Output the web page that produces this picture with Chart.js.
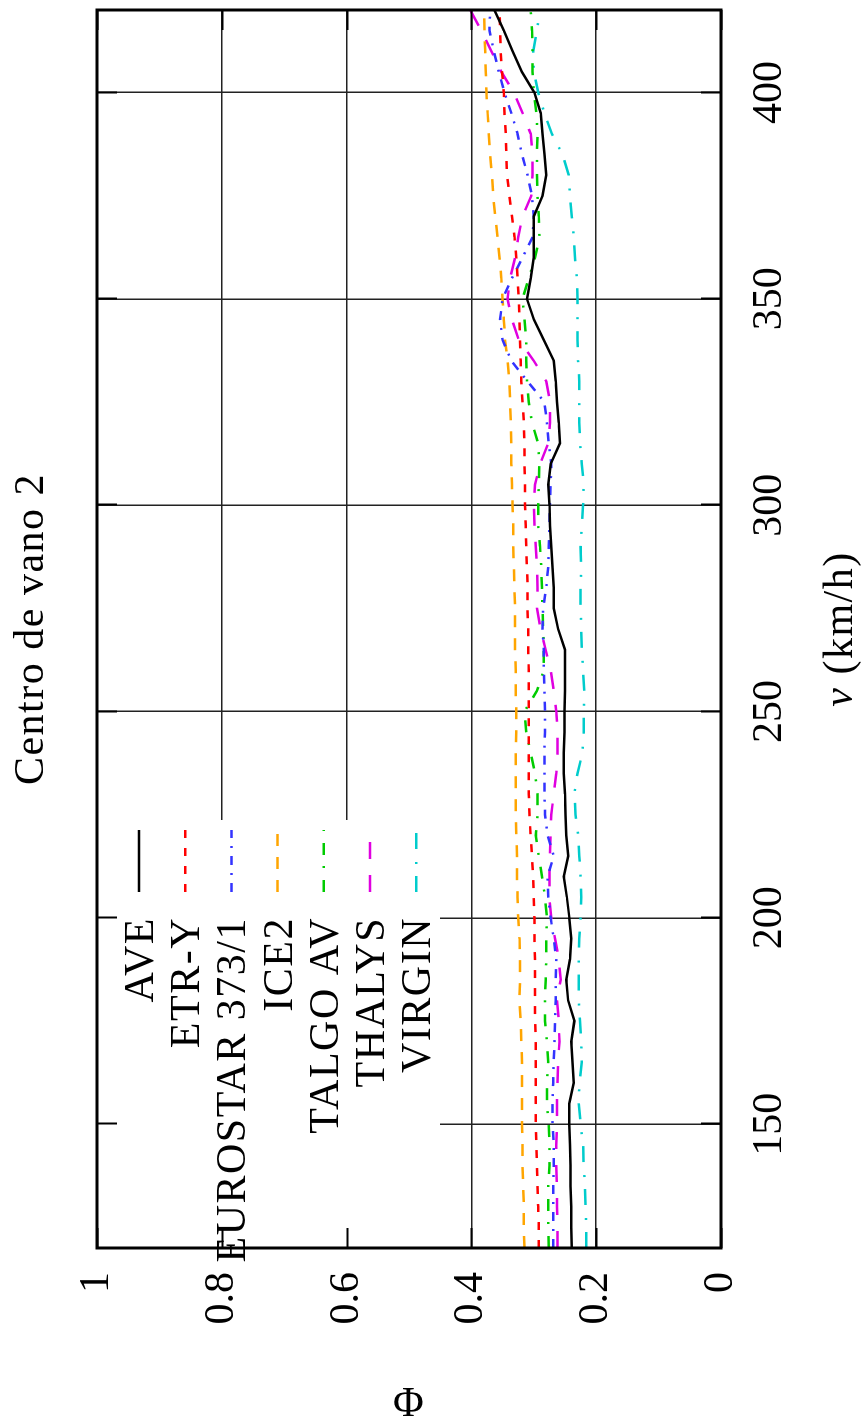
<!DOCTYPE html>
<html>
<head>
<meta charset="utf-8">
<script src="https://cdn.jsdelivr.net/npm/chart.js@4.4.1/dist/chart.umd.min.js"></script>
<style>
html, body { margin: 0; padding: 0; overflow: hidden; background: #fff; width: 864px; height: 1426px; }
/* the plot is drawn landscape and turned a quarter turn, like the original */
#wrap { position: absolute; left: 0; top: 0; width: 1426px; height: 864px;
        transform-origin: 0 0; transform: translate(0, 1426px) rotate(-90deg); }
</style>
</head>
<body>
<div id="wrap"><canvas id="c" width="1426" height="864"></canvas></div>
<script>
// v (km/h)
var speeds = [120,125,130,135,140,145,150,155,160,165,170,175,180,185,190,195,200,205,210,215,
              220,225,230,235,240,245,250,255,260,265,270,275,280,285,290,295,300,305,310,315,
              320,325,330,335,340,345,350,355,360,365,370,375,380,385,390,395,400,405,410,415,420];

// Phi per train
var ave = [0.239,0.240,0.240,0.241,0.241,0.242,0.243,0.243,0.236,0.238,0.240,0.235,0.245,0.248,0.242,0.240,0.243,0.247,0.252,0.245,
           0.248,0.249,0.250,0.252,0.252,0.251,0.251,0.250,0.250,0.250,0.261,0.268,0.268,0.270,0.272,0.274,0.275,0.277,0.273,0.258,
           0.260,0.263,0.265,0.268,0.284,0.300,0.311,0.305,0.300,0.300,0.300,0.286,0.280,0.283,0.286,0.289,0.299,0.319,0.334,0.348,0.363];
var etrY = [0.292,0.292,0.293,0.294,0.295,0.296,0.297,0.297,0.297,0.297,0.297,0.298,0.298,0.298,0.298,0.299,0.299,0.300,0.301,0.303,
            0.305,0.307,0.308,0.308,0.308,0.308,0.308,0.308,0.308,0.309,0.309,0.310,0.310,0.311,0.312,0.313,0.314,0.314,0.315,0.315,
            0.316,0.318,0.320,0.321,0.322,0.323,0.324,0.326,0.328,0.331,0.335,0.339,0.343,0.344,0.345,0.347,0.348,0.351,0.353,0.354,0.355];
var eurostar = [0.269,0.269,0.269,0.269,0.268,0.268,0.270,0.270,0.269,0.268,0.267,0.266,0.265,0.265,0.264,0.268,0.273,0.277,0.278,0.268,
                0.278,0.282,0.283,0.283,0.283,0.282,0.282,0.283,0.284,0.284,0.286,0.285,0.280,0.277,0.276,0.275,0.274,0.273,0.272,0.276,
                0.279,0.283,0.310,0.336,0.350,0.354,0.350,0.335,0.318,0.302,0.300,0.303,0.310,0.319,0.326,0.336,0.347,0.356,0.364,0.371,0.370];
var ice2 = [0.315,0.316,0.316,0.317,0.318,0.318,0.319,0.319,0.319,0.319,0.320,0.321,0.323,0.322,0.322,0.323,0.325,0.326,0.327,0.327,
            0.328,0.329,0.329,0.329,0.329,0.328,0.328,0.329,0.329,0.330,0.330,0.330,0.331,0.332,0.333,0.333,0.334,0.335,0.336,0.336,
            0.337,0.338,0.339,0.342,0.346,0.348,0.350,0.352,0.355,0.358,0.362,0.365,0.367,0.370,0.372,0.374,0.376,0.377,0.378,0.379,0.380];
var talgo = [0.276,0.277,0.277,0.277,0.275,0.275,0.276,0.279,0.279,0.277,0.279,0.282,0.282,0.281,0.280,0.280,0.279,0.282,0.287,0.292,
             0.297,0.294,0.294,0.298,0.305,0.312,0.315,0.295,0.284,0.284,0.285,0.286,0.287,0.288,0.290,0.293,0.293,0.292,0.291,0.293,
             0.303,0.308,0.311,0.312,0.312,0.315,0.318,0.308,0.298,0.291,0.292,0.294,0.295,0.295,0.294,0.296,0.300,0.302,0.302,0.303,0.305];
var thalys = [0.262,0.262,0.263,0.263,0.264,0.264,0.263,0.263,0.262,0.261,0.259,0.260,0.263,0.257,0.260,0.266,0.272,0.275,0.275,0.274,
              0.273,0.272,0.268,0.264,0.262,0.262,0.264,0.268,0.273,0.281,0.289,0.295,0.294,0.295,0.297,0.299,0.300,0.298,0.290,0.277,
              0.274,0.274,0.280,0.300,0.324,0.335,0.342,0.338,0.330,0.325,0.318,0.304,0.302,0.302,0.305,0.318,0.332,0.352,0.368,0.384,0.402];
var virgin = [0.216,0.216,0.217,0.218,0.220,0.221,0.225,0.228,0.227,0.223,0.224,0.226,0.228,0.228,0.228,0.227,0.225,0.224,0.225,0.227,
              0.229,0.233,0.235,0.230,0.222,0.220,0.220,0.219,0.221,0.223,0.224,0.225,0.225,0.224,0.225,0.223,0.221,0.220,0.223,0.226,
              0.227,0.227,0.227,0.229,0.230,0.230,0.230,0.231,0.234,0.236,0.239,0.242,0.244,0.254,0.271,0.283,0.293,0.300,0.301,0.295,0.290];

var seriesNames = ['AVE', 'ETR-Y', 'EUROSTAR 373/1', 'ICE2', 'TALGO AV', 'THALYS', 'VIRGIN'];
var vTicks = [150, 200, 250, 300, 350, 400];
var phiTicks = [0, 0.2, 0.4, 0.6, 0.8, 1];
var phiTickLabels = ['0', '0.2', '0.4', '0.6', '0.8', '1'];

var FONT = "'Liberation Serif', 'DejaVu Serif', serif";
var FS = 42;

var styles = [
    { color: '#000000', dash: [] },
    { color: '#ff0000', dash: [8, 10] },
    { color: '#3333ff', dash: [9, 8, 2, 8] },
    { color: '#ffa500', dash: [12, 11] },
    { color: '#00cc00', dash: [12, 12, 2, 11] },
    { color: '#e000e0', dash: [17, 16] },
    { color: '#00cccc', dash: [16, 12, 2, 13] }
];
var values = [ave, etrY, eurostar, ice2, talgo, thalys, virgin];

function points(arr) {
    return speeds.map(function (v, i) { return { x: v, y: arr[i] }; });
}

var datasets = values.map(function (arr, i) {
    return {
        label: seriesNames[i],
        data: points(arr),
        borderColor: styles[i].color,
        borderDash: styles[i].dash,
        borderWidth: 2.5,
        pointRadius: 0,
        tension: 0,
        fill: false
    };
});

// key box and text positions (original, unrotated frame)
var KEY_RIGHT = 606, KEY_BOTTOM = 440, KEY_TEXT_END = 509;
var KEY_ROW0 = 139, KEY_STEP = 46.2, KEY_SAMPLE = [534, 596];
var TICK_LEN = 20;

var gnuplotFrame = {
    id: 'gnuplotFrame',
    beforeDatasetsDraw: function (chart) {
        var ctx = chart.ctx, a = chart.chartArea;
        ctx.save();
        ctx.fillStyle = '#ffffff';
        ctx.fillRect(a.left, a.top, KEY_RIGHT - a.left, KEY_BOTTOM - a.top);
        ctx.restore();
    },
    afterDraw: function (chart) {
        var ctx = chart.ctx, a = chart.chartArea;
        var xs = chart.scales.x, ys = chart.scales.y;
        var midX = (a.left + a.right) / 2, midY = (a.top + a.bottom) / 2;
        ctx.save();
        // Computer Modern runs wider than Liberation Serif
        ctx.letterSpacing = '1.5px';

        // key
        ctx.font = FS + 'px ' + FONT;
        ctx.fillStyle = '#000';
        ctx.textAlign = 'right';
        ctx.textBaseline = 'alphabetic';
        chart.data.datasets.forEach(function (ds, i) {
            var y = KEY_ROW0 + i * KEY_STEP;
            ctx.fillText(ds.label, KEY_TEXT_END, y + 14);
            ctx.beginPath();
            ctx.setLineDash(ds.borderDash);
            ctx.strokeStyle = ds.borderColor;
            ctx.lineWidth = 2.5;
            ctx.moveTo(KEY_SAMPLE[0], y);
            ctx.lineTo(KEY_SAMPLE[1], y);
            ctx.stroke();
        });
        ctx.setLineDash([]);

        // inward tick marks on all four sides
        ctx.strokeStyle = '#000';
        ctx.lineWidth = 2;
        ctx.beginPath();
        vTicks.forEach(function (v) {
            var px = Math.round(xs.getPixelForValue(v)) + 0.5;
            ctx.moveTo(px, a.bottom); ctx.lineTo(px, a.bottom - TICK_LEN);
            ctx.moveTo(px, a.top); ctx.lineTo(px, a.top + TICK_LEN);
        });
        phiTicks.forEach(function (p) {
            var py = Math.round(ys.getPixelForValue(p)) + 0.5;
            ctx.moveTo(a.left, py); ctx.lineTo(a.left + TICK_LEN, py);
            ctx.moveTo(a.right, py); ctx.lineTo(a.right - TICK_LEN, py);
        });
        ctx.stroke();

        // border
        ctx.lineWidth = 3;
        ctx.strokeRect(a.left, a.top, a.right - a.left, a.bottom - a.top);

        // title
        ctx.textAlign = 'center';
        ctx.font = FS + 'px ' + FONT;
        ctx.fillText('Centro de vano 2', midX, 43);

        // x axis title with italic v
        var italic = 'italic ' + FS + 'px ' + FONT;
        var upright = FS + 'px ' + FONT;
        ctx.font = italic;
        var wv = ctx.measureText('v').width;
        ctx.font = upright;
        var wr = ctx.measureText(' (km/h)').width;
        var x0 = midX - (wv + wr) / 2;
        ctx.textAlign = 'left';
        ctx.font = italic;
        ctx.fillText('v', x0, 852);
        ctx.font = upright;
        ctx.fillText(' (km/h)', x0 + wv, 852);

        // y axis title
        ctx.translate(21, midY);
        ctx.rotate(Math.PI / 2);
        ctx.textAlign = 'center';
        ctx.textBaseline = 'middle';
        ctx.fillText('\u03A6', 0, 0);
        ctx.restore();
    }
};

new Chart(document.getElementById('c'), {
    type: 'line',
    data: { datasets: datasets },
    options: {
        responsive: false,
        animation: false,
        devicePixelRatio: 1,
        layout: { padding: { top: 97, right: 10, left: 0, bottom: 0 } },
        plugins: { legend: { display: false }, tooltip: { enabled: false } },
        scales: {
            x: {
                type: 'linear',
                min: 120,
                max: 420,
                afterBuildTicks: function (s) {
                    s.ticks = vTicks.map(function (v) { return { value: v }; });
                },
                afterFit: function (s) { s.height = 143; },
                ticks: {
                    color: '#000',
                    font: { family: FONT, size: FS },
                    padding: 24,
                    maxRotation: 0,
                    callback: function (v) { return String(v); }
                },
                grid: { color: '#222', lineWidth: 1.5, drawTicks: false },
                border: { display: false }
            },
            y: {
                type: 'linear',
                min: 0,
                max: 1,
                afterBuildTicks: function (s) {
                    s.ticks = phiTicks.map(function (v) { return { value: v }; });
                },
                afterFit: function (s) { s.width = 178; },
                ticks: {
                    color: '#000',
                    font: { family: FONT, size: FS },
                    padding: 24,
                    callback: function (v) {
                        var i = phiTicks.indexOf(v);
                        return i >= 0 ? phiTickLabels[i] : '';
                    }
                },
                grid: { color: '#222', lineWidth: 1.5, drawTicks: false },
                border: { display: false }
            }
        }
    },
    plugins: [gnuplotFrame]
});
</script>
</body>
</html>
